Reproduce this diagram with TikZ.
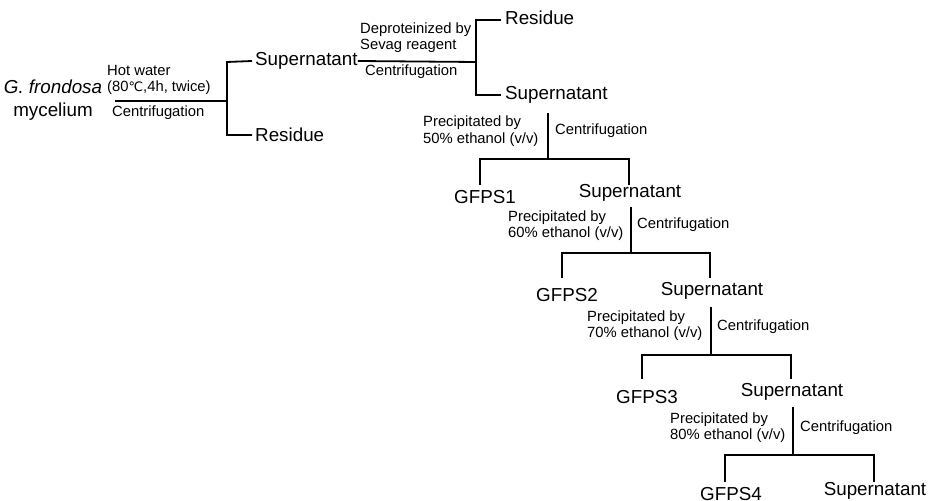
\documentclass[tikz,border=0pt]{standalone}
\usepackage{fontspec}
\setmainfont{Liberation Sans}
\newfontfamily\dejavu{DejaVu Sans}
\begin{document}
\begin{tikzpicture}[x=1bp,y=-1bp,
  big/.style={inner sep=0pt,font=\fontsize{18.8bp}{23bp}\selectfont},
  small/.style={inner sep=0pt,align=left,anchor=west,font=\fontsize{14.8bp}{16.5bp}\selectfont},
  ln/.style={line width=1.8bp}]
\useasboundingbox (0,0) rectangle (937,501);
% source
\node[big,align=center] (src) at (53,100.5) {\textit{G. frondosa}\\mycelium};
\coordinate (s0) at (115,101);
\coordinate (j0) at (227,101);
\coordinate (j0t) at (227,62);
\coordinate (j0b) at (227,135);
\node[small] (hw) at (107,80) {Hot water\\(80{\dejavu\fontsize{13bp}{16bp}\selectfont ℃},4h, twice)};
\node[small] (c0) at (112,113) {Centrifugation};
\node[big,anchor=west] (S1) at (255,61) {Supernatant};
\node[big,anchor=west] (R1) at (255,135) {Residue};
\draw[ln] (s0) -- (j0);
\draw[ln] ([xshift=-3bp]R1.west) -- (j0b) -- (j0t) -- ([xshift=-3bp]S1.west);
% deproteinization
\coordinate (j1) at (476,62);
\coordinate (j1t) at (476,20);
\coordinate (j1b) at (476,95);
\node[small] (dp) at (360,37.5) {Deproteinized by\\Sevag reagent};
\node[small] (c1) at (365,72) {Centrifugation};
\node[big,anchor=west] (R2) at (505,18) {Residue};
\node[big,anchor=west] (S2) at (505,95) {Supernatant};
\draw[ln] (S1.east) -- (j1);
\draw[ln] ([xshift=-4bp]R2.west |- j1t) -- (j1t) -- (j1b) -- ([xshift=-4bp]S2.west);
% stage 1
\coordinate (a1) at (548,113);
\coordinate (b1) at (548,159);
\coordinate (l1) at (480,159);
\coordinate (r1) at (629,159);
\coordinate (l1d) at (480,185);
\coordinate (r1d) at (629,185);
\node[big] (G1) at (485,197) {GFPS1};
\node[big] (S3) at (630,193) {Supernatant};
\node[small] (p1) at (423,131) {Precipitated by\\50\% ethanol (v/v)};
\node[small] (c2) at (555,131) {Centrifugation};
\draw[ln] (a1) -- (b1);
\draw[ln] (l1d) -- (l1) -- (r1) -- (r1d);
% stage 2
\coordinate (a2) at (631,207);
\coordinate (b2) at (631,253);
\coordinate (l2) at (562,253);
\coordinate (r2) at (710,253);
\coordinate (l2d) at (562,278);
\coordinate (r2d) at (710,278);
\node[big] (G2) at (567,295) {GFPS2};
\node[big] (S4) at (712,291) {Supernatant};
\node[small] (p2) at (508,225.5) {Precipitated by\\60\% ethanol (v/v)};
\node[small] (c3) at (637,225) {Centrifugation};
\draw[ln] (a2) -- (b2);
\draw[ln] (l2d) -- (l2) -- (r2) -- (r2d);
% stage 3
\coordinate (a3) at (711,307);
\coordinate (b3) at (711,355);
\coordinate (l3) at (642,355);
\coordinate (r3) at (791,355);
\coordinate (l3d) at (642,379);
\coordinate (r3d) at (791,379);
\node[big] (G3) at (647,397) {GFPS3};
\node[big] (S5) at (792,392) {Supernatant};
\node[small] (p3) at (587,325.5) {Precipitated by\\70\% ethanol (v/v)};
\node[small] (c4) at (717,327) {Centrifugation};
\draw[ln] (a3) -- (b3);
\draw[ln] (l3d) -- (l3) -- (r3) -- (r3d);
% stage 4
\coordinate (a4) at (793,407);
\coordinate (b4) at (793,455);
\coordinate (l4) at (725,455);
\coordinate (r4) at (874,455);
\coordinate (l4d) at (725,482);
\coordinate (r4d) at (874,482);
\node[big] (G4) at (731,494) {GFPS4};
\node[big] (S6) at (875,491) {Supernatant};
\node[small] (p4) at (670,427.5) {Precipitated by\\80\% ethanol (v/v)};
\node[small] (c5) at (800,428) {Centrifugation};
\draw[ln] (a4) -- (b4);
\draw[ln] (l4d) -- (l4) -- (r4) -- (r4d);
\end{tikzpicture}
\end{document}
